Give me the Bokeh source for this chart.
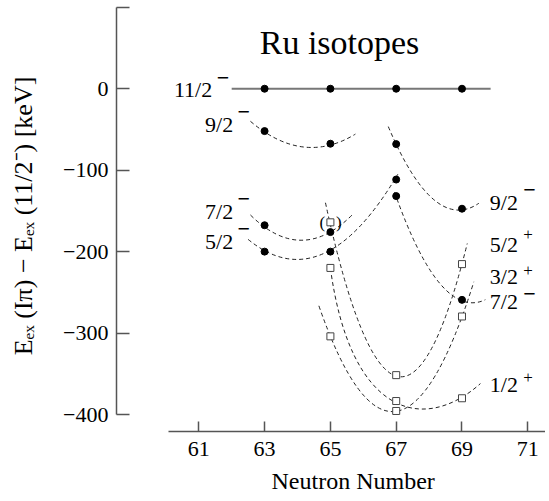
from bokeh.plotting import figure
from bokeh.models import FixedTicker, Label, Range1d, Title
from bokeh.core.properties import value
from bokeh.embed import file_html
from bokeh.resources import INLINE

FONT = "Liberation Serif"

# ---------------- data ----------------
neutron_ticks = [61, 63, 65, 67, 69, 71]
energy_ticks = [-400, -300, -200, -100, 0, 100]

n_neg = [63, 65, 67, 69]
e_11_2m = [0, 0, 0, 0]
e_9_2m = [-52, -67.5, -68, -147.3]
e_7_2m = [-167.6, -176, -131.8, -259.2]
n_5_2m = [63, 65, 67]
e_5_2m = [-200, -200, -111.5]

n_pos = [65, 67, 69]
e_5_2p = [-164, -351.6, -215.3]   # value at N=65 tentative (in parentheses)
e_3_2p = [-304, -395.6, -279.6]
e_1_2p = [-220, -383.4, -380]

# 11/2- reference line
ref_line_n = [62.0, 69.87]
ref_line_e = [0, 0]

# dashed guide curves (quadratic Bezier: start, end, control)
# order: 9/2- left, 9/2- right, 7/2- left, 5/2-, 7/2- right, 5/2+, 3/2+
cur_n0 = [62.57, 66.76, 62.57, 62.50, 66.95, 64.85, 64.65]
cur_e0 = [-40.0, -46.5, -155.0, -185.0, -127.0, -140.0, -266.5]
cur_n1 = [65.76, 69.51, 65.66, 67.05, 69.71, 69.16, 69.36]
cur_e1 = [-55.7, -140.7, -155.0, -105.0, -259.0, -190.0, -237.0]
cur_nc = [64.17, 68.135, 64.115, 64.775, 68.33, 67.005, 67.005]
cur_ec = [-95.1, -178.2, -217.0, -260.3, -285.5, -540.7, -540.25]
# 1/2+ guide curve (cubic Bezier: start, control 1, control 2, end)
c12_n = [65.0, 65.6, 67.8, 69.56]
c12_e = [-220.0, -400.0, -425.0, -362.0]

# state labels (vertical centre of the text, in data space)
left_txt = ["11/2", "9/2", "7/2", "5/2"]
left_n = [61.407, 62.046, 62.046, 62.046]
left_e = [-1.5, -43.9, -151.3, -187.9]
left_sup = ["−", "−", "−", "−"]
left_sup_n = [61.736, 62.368, 62.368, 62.368]
left_sup_e = [13.7, -28.8, -135.9, -171.7]

right_txt = ["9/2", "5/2", "3/2", "7/2", "1/2"]
right_n = [69.845, 69.845, 69.845, 69.845, 69.845]
right_e = [-139.1, -191.2, -230.7, -261.8, -362.5]
right_sup = ["−", "+", "+", "−", "+"]
right_sup_n = [71.05, 71.006, 71.006, 71.05, 71.006]
right_sup_e = [-124.3, -178.6, -222.6, -252.3, -355.1]

# ---------------- figure ----------------
p = figure(width=545, height=500,
           x_range=Range1d(58.499, 71.538), y_range=Range1d(-420.8, 108.3),
           output_backend="svg", toolbar_location=None,
           min_border_left=116, min_border_right=0,
           min_border_top=0, min_border_bottom=67)
p.grid.visible = False
p.outline_line_color = None
p.background_fill_color = "white"
p.border_fill_color = "white"

ax_col = "#555555"
xa = p.xaxis[0]
xa.ticker = FixedTicker(ticks=neutron_ticks)
xa.bounds = (60.09, 71.538)
xa.major_tick_in = 10
xa.major_tick_out = 0
xa.minor_tick_line_color = None
xa.axis_line_color = ax_col
xa.axis_line_width = 1.5
xa.major_tick_line_color = ax_col
xa.major_tick_line_width = 1.5
xa.major_label_text_font = FONT
xa.major_label_text_font_size = "22px"
xa.major_label_text_color = "black"
xa.major_label_standoff = 10

ya = p.yaxis[0]
ya.ticker = FixedTicker(ticks=energy_ticks)
ya.bounds = (-400, 100)
ya.major_label_overrides = {t: ("" if t == 100 else str(t).replace("-", "−")) for t in energy_ticks}
ya.major_tick_in = 13
ya.major_tick_out = 0
ya.minor_tick_line_color = None
ya.axis_line_color = ax_col
ya.axis_line_width = 1.5
ya.major_tick_line_color = ax_col
ya.major_tick_line_width = 1.5
ya.major_label_text_font = FONT
ya.major_label_text_font_size = "22px"
ya.major_label_text_color = "black"
ya.major_label_standoff = 8
ya.axis_label = "Eₑₓ (Iπ) − Eₑₓ (11/2⁻) [keV]"
ya.axis_label_text_font = FONT
ya.axis_label_text_font_size = "26px"
ya.axis_label_text_font_style = "normal"
ya.axis_label_text_color = "black"
ya.axis_label_standoff = 22

p.add_layout(Title(text="Neutron Number", align="left", offset=155, standoff=14,
                   text_font=FONT, text_font_size="24px", text_font_style="normal",
                   text_color="black"), "below")

# reference line
p.line(ref_line_n, ref_line_e, line_color="#777777", line_width=2)

# guide curves
p.quadratic(x0=cur_n0, y0=cur_e0, x1=cur_n1, y1=cur_e1, cx=cur_nc, cy=cur_ec,
            line_color="#222222", line_width=1, line_dash="4 3")
p.bezier(x0=[c12_n[0]], y0=[c12_e[0]], x1=[c12_n[3]], y1=[c12_e[3]],
         cx0=[c12_n[1]], cy0=[c12_e[1]], cx1=[c12_n[2]], cy1=[c12_e[2]],
         line_color="#222222", line_width=1, line_dash="4 3")

# negative parity (filled circles)
for ys, xs in [(e_11_2m, n_neg), (e_9_2m, n_neg), (e_7_2m, n_neg), (e_5_2m, n_5_2m)]:
    p.scatter(xs, ys, marker="circle", size=7, fill_color="black", line_color="black")

# positive parity (open squares)
for ys in [e_5_2p, e_3_2p, e_1_2p]:
    p.scatter(n_pos, ys, marker="square", size=7, fill_color="white",
              line_color="#444444", line_width=1)

# parentheses around the tentative level
p.text(x=[n_pos[0], n_pos[0]], y=[e_5_2p[0], e_5_2p[0]], text=["(", ")"],
       x_offset=[-8, 8.5], text_align="center", text_baseline="middle",
       text_font=value(FONT), text_font_size="17px", text_color="black")

# state labels
p.text(x=left_n, y=left_e, text=left_txt, text_align="right", text_baseline="middle",
       text_font=value(FONT), text_font_size="22px", text_color="black")
p.text(x=right_n, y=right_e, text=right_txt, text_align="left", text_baseline="middle",
       text_font=value(FONT), text_font_size="22px", text_color="black")
sup_n = left_sup_n + right_sup_n
sup_e = left_sup_e + right_sup_e
sup_t = left_sup + right_sup
minus_idx = [i for i, t in enumerate(sup_t) if t == "−"]
plus_idx = [i for i, t in enumerate(sup_t) if t == "+"]
p.text(x=[sup_n[i] for i in minus_idx], y=[sup_e[i] for i in minus_idx],
       text=[sup_t[i] for i in minus_idx], text_align="center", text_baseline="middle",
       text_font=value(FONT), text_font_size="22px", text_font_style="bold",
       text_color="#000000")
p.text(x=[sup_n[i] for i in plus_idx], y=[sup_e[i] for i in plus_idx],
       text=[sup_t[i] for i in plus_idx], text_align="center", text_baseline="middle",
       text_font=value(FONT), text_font_size="17px", text_color="#000000")

# title inside the plot
p.add_layout(Label(x=65.407, y=57.3, text="Ru  isotopes", text_align="center",
                   text_baseline="middle", text_font=FONT, text_font_size="34px",
                   text_color="black"))

open("out.html", "w").write(file_html(p, INLINE))
